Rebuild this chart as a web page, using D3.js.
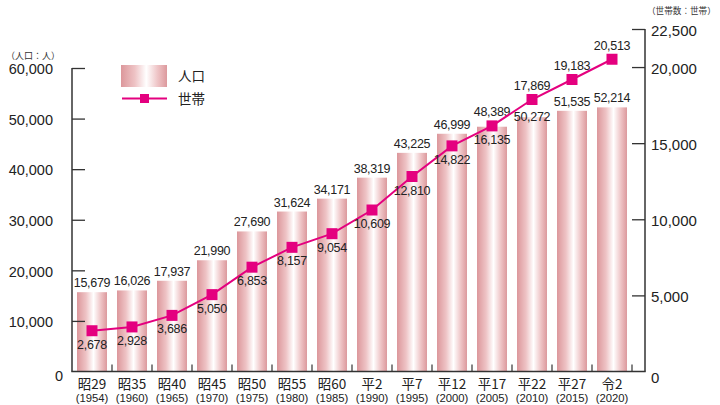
<!DOCTYPE html>
<html><head><meta charset="utf-8">
<script src="https://cdn.jsdelivr.net/npm/d3@7/dist/d3.min.js"></script>
<style>body{margin:0;background:#fff;}svg{display:block;}</style>
</head><body>
<svg id="c" width="720" height="405"></svg>
<script>
const eras = ["昭29","昭35","昭40","昭45","昭50","昭55","昭60","平2","平7","平12","平17","平22","平27","令2"];
const years = ["1954","1960","1965","1970","1975","1980","1985","1990","1995","2000","2005","2010","2015","2020"];
const population = [15679,16026,17937,21990,27690,31624,34171,38319,43225,46999,48389,50272,51535,52214];
const households = [2678,2928,3686,5050,6853,8157,9054,10609,12810,14822,16135,17869,19183,20513];
const hhLabelAbove = [false,false,false,false,false,false,false,false,false,false,false,true,true,true];
const leftTicks = [0,10000,20000,30000,40000,50000,60000];
const rightTicks = [0,5000,10000,15000,20000,22500];

const svg = d3.select("#c");
const NUM = "'Liberation Sans', Arial, sans-serif";
const JP = "'Noto Sans CJK JP', sans-serif";
const Y0 = 371.5;
const x = d3.scaleBand().domain(eras).range([72,632]).paddingInner(0.25).paddingOuter(0.125);
const yL = d3.scaleLinear().domain([0,60000]).range([Y0,68]);
const yR = d3.scaleLinear().domain([0,22500]).range([Y0,29]);
const fmt = d3.format(",");

const defs = svg.append("defs");
const g = defs.append("linearGradient").attr("id","bar").attr("x1","0").attr("x2","1").attr("y1","0").attr("y2","0");
g.append("stop").attr("offset","0").attr("stop-color","#dc979b");
g.append("stop").attr("offset","0.3").attr("stop-color","#eec3c5");
g.append("stop").attr("offset","0.55").attr("stop-color","#ffffff");
g.append("stop").attr("offset","0.8").attr("stop-color","#eec3c5");
g.append("stop").attr("offset","1").attr("stop-color","#dc999d");

// bars
svg.selectAll("rect.bar").data(population).enter().append("rect")
  .attr("x",(d,i)=>x(eras[i])).attr("width",x.bandwidth())
  .attr("y",d=>yL(d)).attr("height",d=>yL(0)-yL(d)).attr("fill","url(#bar)");

// axes
const axisColor = "#333";
const axL = d3.axisLeft(yL).tickValues(leftTicks).tickSize(-13).tickPadding(19).tickFormat(fmt);
const gl = svg.append("g").attr("transform","translate(72,0)").call(axL);
gl.select(".domain").remove();
gl.selectAll(".tick line").attr("stroke",axisColor).attr("stroke-width",1.3);
gl.selectAll(".tick text").attr("font-family",NUM).attr("font-size",14.5).attr("fill","#222").attr("dy","0.4em");
gl.selectAll(".tick").filter(d=>d===0).select("line").remove();
gl.selectAll(".tick").filter(d=>d===0).select("text").attr("x",-9).attr("dy","0.6em");

const axR = d3.axisRight(yR).tickValues(rightTicks).tickSize(-13).tickPadding(6).tickFormat(fmt);
const gr = svg.append("g").attr("transform","translate(645,0)").call(axR);
gr.select(".domain").remove();
gr.selectAll(".tick line").attr("stroke",axisColor).attr("stroke-width",1.3);
gr.selectAll(".tick text").attr("font-family",NUM).attr("font-size",15).attr("fill","#222").attr("dy","0.4em");
gr.selectAll(".tick").filter(d=>d===0).select("line").remove();
gr.selectAll(".tick").filter(d=>d===0).select("text").attr("dy","0.75em");

svg.append("line").attr("x1",72).attr("x2",72).attr("y1",yL(60000)).attr("y2",Y0).attr("stroke",axisColor).attr("stroke-width",1.5);
svg.append("line").attr("x1",645).attr("x2",645).attr("y1",yR(22500)).attr("y2",Y0).attr("stroke",axisColor).attr("stroke-width",1.5);
svg.append("line").attr("x1",71.3).attr("x2",645.7).attr("y1",Y0).attr("y2",Y0).attr("stroke",axisColor).attr("stroke-width",1.5);

// bottom boundary ticks
svg.selectAll("line.bt").data(eras).enter().append("line")
  .attr("x1",d=>x(d)+x.bandwidth()+x.step()*0.125).attr("x2",d=>x(d)+x.bandwidth()+x.step()*0.125)
  .attr("y1",Y0).attr("y2",Y0-7).attr("stroke",axisColor).attr("stroke-width",1.2);

// category labels
svg.selectAll("text.era").data(eras).enter().append("text")
  .attr("x",d=>x(d)+x.bandwidth()/2).attr("y",389).attr("text-anchor","middle")
  .attr("font-family",JP).attr("font-size",13.5).attr("fill","#222").text(d=>d);
svg.selectAll("text.yr").data(years).enter().append("text")
  .attr("x",(d,i)=>x(eras[i])+x.bandwidth()/2).attr("y",401.5).attr("text-anchor","middle")
  .attr("font-family",NUM).attr("font-size",11.3).attr("fill","#222").text(d=>"("+d+")");

const cx = (i)=>x(eras[i])+x.bandwidth()/2;

// bar labels: moved off the household marker when they would collide
svg.selectAll("text.pl").data(population).enter().append("text")
  .attr("x",(d,i)=>cx(i)).attr("y",(d,i)=>{
     const ty = yL(d)-5, my = yR(households[i]);
     const hit = ty > my-7 && ty-11 < my+6;
     if (!hit) return ty;
     return hhLabelAbove[i] ? my+22 : my-10;
  }).attr("text-anchor","middle")
  .attr("font-family",NUM).attr("font-size",12.5).attr("fill","#222").attr("letter-spacing",-0.3).text(d=>fmt(d));

// line
const line = d3.line().x((d,i)=>cx(i)).y(d=>yR(d));
svg.append("path").datum(households).attr("d",line).attr("fill","none").attr("stroke","#e4007f").attr("stroke-width",2);
svg.selectAll("rect.mk").data(households).enter().append("rect")
  .attr("x",(d,i)=>cx(i)-5.5).attr("y",d=>yR(d)-5.5).attr("width",11).attr("height",11).attr("fill","#e4007f");
svg.selectAll("text.hl").data(households).enter().append("text")
  .attr("x",(d,i)=>cx(i)).attr("y",(d,i)=>hhLabelAbove[i]?yR(d)-9:yR(d)+18).attr("text-anchor","middle")
  .attr("font-family",NUM).attr("font-size",12.5).attr("fill","#222").attr("letter-spacing",-0.3).text(d=>fmt(d));

// unit labels
svg.append("text").attr("x",6).attr("y",59).attr("font-family",JP).attr("font-size",9).attr("fill","#333").text("（人口：人）");
svg.append("text").attr("x",647).attr("y",14).attr("font-family",JP).attr("font-size",8.6).attr("fill","#333").text("（世帯数：世帯）");

// legend
svg.append("rect").attr("x",121).attr("y",65).attr("width",46).attr("height",22).attr("fill","url(#bar)");
svg.append("text").attr("x",178).attr("y",81).attr("font-family",JP).attr("font-size",13.5).attr("fill","#222").text("人口");
svg.append("line").attr("x1",122).attr("x2",167).attr("y1",98.5).attr("y2",98.5).attr("stroke","#e4007f").attr("stroke-width",2);
svg.append("rect").attr("x",140).attr("y",94).attr("width",9).attr("height",9).attr("fill","#e4007f");
svg.append("text").attr("x",178).attr("y",104).attr("font-family",JP).attr("font-size",13.5).attr("fill","#222").text("世帯");
</script>
</body></html>
